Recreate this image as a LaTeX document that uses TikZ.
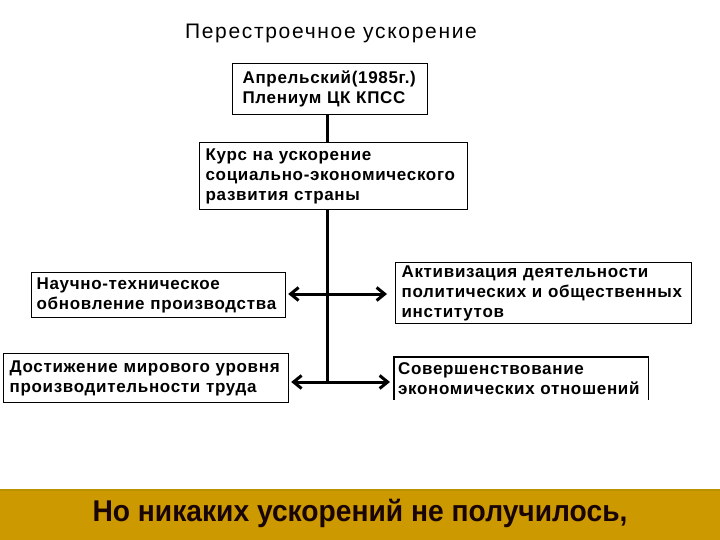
\documentclass[tikz,border=0pt]{standalone}
\usepackage{fontspec}
\setmainfont{Liberation Sans}
\usetikzlibrary{arrows.meta}
\definecolor{banner}{RGB}{204,153,0}
\definecolor{bannerline}{RGB}{184,146,0}

\begin{document}
\begin{tikzpicture}[x=1pt,y=-1pt,>={Straight Barb[length=8pt,width=13pt]},line cap=butt,
  box/.style={draw,line width=1.2pt,anchor=north west,inner xsep=6pt,inner ysep=0pt,align=left,
    font=\bfseries\fontsize{17}{20}\selectfont\addfontfeatures{LetterSpace=4}},
  link/.style={line width=3pt}]
\useasboundingbox (0,0) rectangle (720,540);
\fill[white] (0,0) rectangle (720,540);
\node[font=\fontsize{21}{24}\selectfont\addfontfeatures{LetterSpace=8}] (title) at (331,33) {Перестроечное ускорение};
\node[box,minimum width=195,minimum height=51,inner xsep=10pt,text width=175] (plenum) at (232,63)
  {Апрельский(1985г.)\\Плениум ЦК КПСС};
\node[box,minimum width=268,minimum height=67,text width=256] (kurs) at (199,142)
  {Курс на ускорение\\социально-экономического\\развития страны};
\node[box,minimum width=254,minimum height=45,inner xsep=5pt,text width=244] (nauch) at (31,272)
  {Научно-техническое\\обновление производства};
\node[box,minimum width=285,minimum height=49,text width=273] (dost) at (3,353)
  {Достижение мирового уровня\\производительности труда};
\node[box,minimum width=296,minimum height=61,text width=284] (aktiv) at (395,262)
  {Активизация деятельности\\политических и общественных\\институтов};
\node[box,draw=none,minimum width=253,minimum height=42,inner xsep=3.5pt,text width=246] (sover) at (394,357)
  {Совершенствование\\экономических отношений};
\draw[line width=1.2pt] (sover.south west) |- (sover.north east) -- (sover.south east);
% spine
\coordinate (top) at (327,0);
\coordinate (upper) at (327,294);
\coordinate (lower) at (327,382);
\draw[link] (plenum.south -| top) -- (kurs.north -| top);
\draw[link] (kurs.south -| top) -- ([yshift=-1.5pt]lower);
\draw[link,->,shorten >=2pt] (upper) -- (nauch.east |- upper);
\draw[link,->,shorten >=8pt] (upper) -- (aktiv.west |- upper);
\draw[link,->,shorten >=2pt] (lower) -- (dost.east |- lower);
\draw[link,->,shorten >=4pt] (lower) -- (sover.west |- lower);
% bottom banner
\fill[banner] (0,489) rectangle (720,540);
\draw[bannerline,line width=1.5pt] (0,489.75) -- (720,489.75);
\node[font=\bfseries\fontsize{30}{34}\selectfont,text={rgb,255:red,25;green,5;blue,5},xscale=0.94] (note) at (360,513)
  {Но никаких ускорений не получилось,};
\end{tikzpicture}
\end{document}
